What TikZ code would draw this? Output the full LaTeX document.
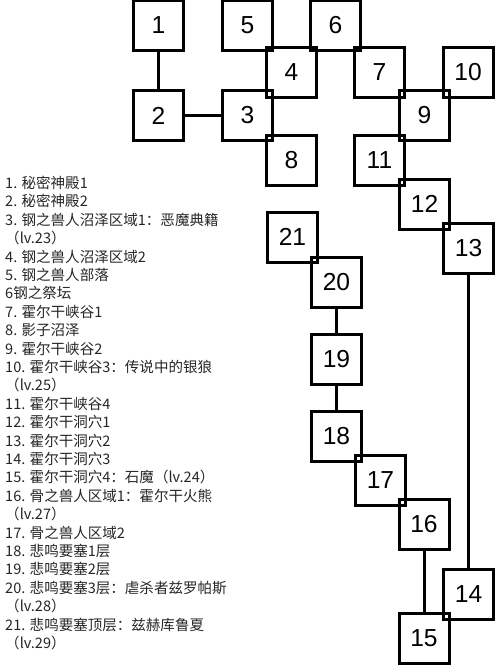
\documentclass[tikz,border=0pt]{standalone}
\usepackage{fontspec}
\setmainfont{Liberation Sans}
\newfontfamily\cjk{Noto Sans CJK SC}
\tikzset{
  room/.style={draw, line width=0.9mm, minimum size=1.5cm, inner sep=0pt,
    font=\fontsize{21}{21}\selectfont},
  link/.style={line width=0.9mm},
  legendtext/.style={anchor=north west, align=left, inner sep=0pt, text=black!85,
    font=\cjk\fontsize{12.4}{15.7}\selectfont},
}
\begin{document}
\begin{tikzpicture}[x=0.03cm, y=-0.03cm]
  \useasboundingbox (0,0) rectangle (500,666);
  \clip (0,0) rectangle (500,666);
  \node[room] (r1) at (158.5,25.5) {1};
  \node[room] (r5) at (247.5,25.5) {5};
  \node[room] (r6) at (335.5,25.5) {6};
  \node[room] (r4) at (291.5,72) {4};
  \node[room] (r7) at (379.5,72) {7};
  \node[room] (r10) at (468,72) {10};
  \node[room] (r2) at (158.5,115.5) {2};
  \node[room] (r3) at (247.5,115.5) {3};
  \node[room] (r9) at (424.5,115.5) {9};
  \node[room] (r8) at (291.5,160) {8};
  \node[room] (r11) at (379.5,160) {11};
  \node[room] (r12) at (424.5,204) {12};
  \node[room] (r13) at (468.5,248) {13};
  \node[room] (r21) at (292.5,237) {21};
  \node[room] (r20) at (336.5,282) {20};
  \node[room] (r19) at (336.5,359) {19};
  \node[room] (r18) at (336.5,436.5) {18};
  \node[room] (r17) at (380.5,480.5) {17};
  \node[room] (r16) at (424,524.5) {16};
  \node[room] (r14) at (468.5,594) {14};
  \node[room] (r15) at (424,638) {15};
  \draw[link] (r1) -- (r2);
  \draw[link] (r2) -- (r3);
  \draw[link] (r20) -- (r19);
  \draw[link] (r19) -- (r18);
  \draw[link] (r13) -- (r14);
  \draw[link] (r16) -- (r15);
  \node[legendtext] (legend) at (5,176) {1. 秘密神殿1\\
    2. 秘密神殿2\\
    3. 钢之兽人沼泽区域1：恶魔典籍\\
    （lv.23）\\
    4. 钢之兽人沼泽区域2\\
    5. 钢之兽人部落\\
    6钢之祭坛\\
    7. 霍尔干峡谷1\\
    8. 影子沼泽\\
    9. 霍尔干峡谷2\\
    10. 霍尔干峡谷3：传说中的银狼\\
    （lv.25）\\
    11. 霍尔干峡谷4\\
    12. 霍尔干洞穴1\\
    13. 霍尔干洞穴2\\
    14. 霍尔干洞穴3\\
    15. 霍尔干洞穴4：石魔（lv.24）\\
    16. 骨之兽人区域1：霍尔干火熊\\
    （lv.27）\\
    17. 骨之兽人区域2\\
    18. 悲鸣要塞1层\\
    19. 悲鸣要塞2层\\
    20. 悲鸣要塞3层：虐杀者兹罗帕斯\\
    （lv.28）\\
    21. 悲鸣要塞顶层：兹赫库鲁夏\\
    （lv.29）};
\end{tikzpicture}
\end{document}
